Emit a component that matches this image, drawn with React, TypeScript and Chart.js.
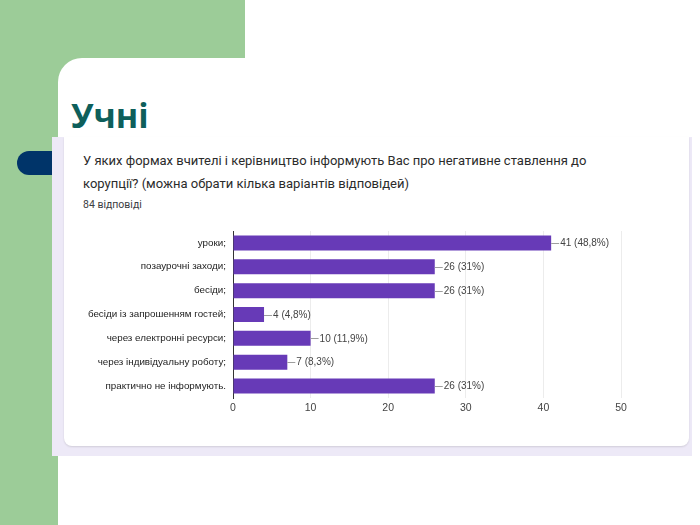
import React, { useEffect, useRef } from "react";
import { Chart, registerables } from "chart.js";

Chart.register(...registerables);

const categories = [
  "уроки;",
  "позаурочні заходи;",
  "бесіди;",
  "бесіди із запрошенням гостей;",
  "через електронні ресурси;",
  "через індивідуальну роботу;",
  "практично не інформують.",
];
const counts = [41, 26, 26, 4, 10, 7, 26];
const percents = ["48,8%", "31%", "31%", "4,8%", "11,9%", "8,3%", "31%"];
const tickLabels = [0, 10, 20, 30, 40, 50];

const pageTitle = "Учні";
const questionLine1 = "У яких формах вчителі і керівництво інформують Вас про негативне ставлення до";
const questionLine2 = "корупції? (можна обрати кілька варіантів відповідей)";
const responses = "84 відповіді";

const FONT = "'Liberation Sans', Arial, sans-serif";

const valueLabelPlugin = {
  id: "valueLabels",
  afterDatasetsDraw(chart: any) {
    const ctx = chart.ctx;
    const meta = chart.getDatasetMeta(0);
    ctx.save();
    ctx.font = `10px ${FONT}`;
    ctx.textBaseline = "middle";
    ctx.textAlign = "left";
    meta.data.forEach((bar: any, i: number) => {
      const x = bar.x;
      const y = bar.y;
      ctx.strokeStyle = "#9e9e9e";
      ctx.lineWidth = 1;
      ctx.beginPath();
      ctx.moveTo(x, Math.round(y) + 0.5);
      ctx.lineTo(x + 8, Math.round(y) + 0.5);
      ctx.stroke();
      ctx.fillStyle = "#444";
      ctx.fillText(`${counts[i]} (${percents[i]})`, x + 9, y + 0.5);
    });
    ctx.restore();
  },
};

function BarChart() {
  const ref = useRef<HTMLCanvasElement | null>(null);
  useEffect(() => {
    if (!ref.current) return;
    const chart = new Chart(ref.current, {
      type: "bar",
      data: {
        labels: categories,
        datasets: [
          {
            data: counts,
            backgroundColor: "#673ab7",
            borderWidth: 0,
            barPercentage: 0.63,
            categoryPercentage: 1,
          },
        ],
      },
      options: {
        indexAxis: "y",
        animation: false,
        responsive: false,
        maintainAspectRatio: false,
        devicePixelRatio: 1,
        layout: { padding: { top: 16, right: 68, bottom: 20, left: 0 } },
        plugins: {
          legend: { display: false },
          tooltip: { enabled: false },
        },
        scales: {
          x: {
            min: 0,
            max: 50,
            afterBuildTicks(scale: any) {
              const t = [];
              for (let v = 0; v <= 50; v += 5) t.push({ value: v });
              scale.ticks = t;
            },
            afterFit(scale: any) {
              scale.height = 22;
            },
            ticks: {
              autoSkip: false,
              maxRotation: 0,
              padding: 4,
              color: "#444",
              font: { family: FONT, size: 10.5 },
              callback: (v: any) => (tickLabels.includes(Number(v)) ? String(v) : null),
            },
            grid: {
              color: "#ececec",
              drawTicks: false,
            },
            border: { display: false },
          },
          y: {
            afterFit(scale: any) {
              scale.width = 169;
            },
            ticks: {
              padding: 7,
              color: "#222",
              font: { family: FONT, size: 9.8 },
            },
            grid: { display: false, drawTicks: false },
            border: { display: true, color: "#333", width: 1 },
          },
        },
      },
      plugins: [valueLabelPlugin],
    });
    return () => chart.destroy();
  }, []);
  return (
    <canvas
      ref={ref}
      width={625}
      height={225}
      style={{ position: "absolute", left: 64, top: 215, width: 625, height: 225 }}
    />
  );
}

export default function App() {
  return (
    <div
      style={{
        position: "fixed",
        left: 0,
        top: 0,
        width: 700,
        height: 525,
        overflow: "hidden",
        background: "#ffffff",
      }}
    >
      <div style={{ position: "absolute", left: 0, top: 0, width: 245, height: 525, background: "#9ccc98" }} />
      <div
        style={{
          position: "absolute",
          left: 58,
          top: 58,
          width: 700,
          height: 600,
          background: "#ffffff",
          borderTopLeftRadius: 24,
        }}
      />
      <div
        style={{
          position: "absolute",
          left: 71,
          top: 92,
          fontFamily: "'Open Sans', 'Noto Sans', sans-serif",
          fontWeight: 700,
          fontSize: 34,
          lineHeight: "46px",
          color: "#0e5f5b",
        }}
      >
        {pageTitle}
      </div>
      <div
        style={{
          position: "absolute",
          left: 17,
          top: 151,
          width: 60,
          height: 24,
          borderRadius: 12,
          background: "#003469",
        }}
      />
      <div
        style={{
          position: "absolute",
          left: 52,
          top: 137,
          width: 640,
          height: 319,
          background: "#ede9f7",
        }}
      />
      <div
        style={{
          position: "absolute",
          left: 64,
          top: 137,
          width: 625,
          height: 309,
          background: "#ffffff",
          borderBottomLeftRadius: 8,
          borderBottomRightRadius: 8,
          boxShadow: "0 1px 2px rgba(0,0,0,0.12)",
        }}
      />
      <div
        style={{
          position: "absolute",
          left: 83,
          top: 149,
          fontFamily: "Roboto, sans-serif",
          fontSize: 13,
          lineHeight: "23px",
          color: "#2b2b2b",
          whiteSpace: "nowrap",
        }}
      >
        {questionLine1}
        <br />
        {questionLine2}
      </div>
      <div
        style={{
          position: "absolute",
          left: 83,
          top: 198,
          fontFamily: "Roboto, sans-serif",
          fontSize: 10.5,
          lineHeight: "14px",
          color: "#3c4043",
        }}
      >
        {responses}
      </div>
      <BarChart />
    </div>
  );
}
